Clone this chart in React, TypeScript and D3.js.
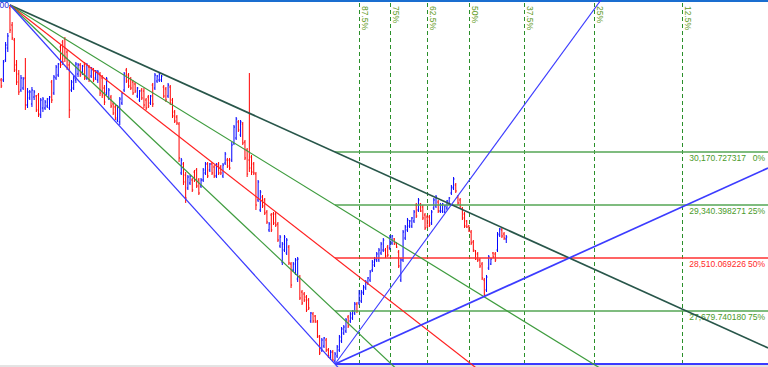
import React from "react";
import * as d3 from "d3";

const W = 768;
const H = 367;

const opens = [31299,31299,31612,31800,32427,32160,31925,31534,31393,31142,31173,31330,30907,31017,30923,31032,31048,31064,30750,30860,30860,30891,30860,31267,31095,31330,31377,31816,31894,31941,31737,31534,31142,31173,31299,31393,31534,31408,31549,31330,31502,31361,31455,31330,31299,31393,31330,31173,31095,31017,31032,30923,30876,30672,30641,30938,31142,31455,31377,31314,31267,31236,31048,30985,31142,31126,30985,31032,30938,31220,31173,31283,31299,31299,31189,31158,31048,31189,30985,30797,30719,30609,29842,29983,29810,29607,29685,29732,29857,29889,29732,29638,29732,29842,29983,29889,29983,29936,29795,29983,29936,29795,29998,30045,30045,30045,30312,30390,30641,30437,30609,30327,30202,30045,30092,29983,29826,29419,29262,29466,29419,29231,28949,29184,29199,29199,29043,28698,28447,28635,28588,28682,28416,28322,28275,28181,28212,27977,27946,27899,27852,27523,27633,27601,27507,27272,27069,27131,27225,27069,26943,27037,26896,26975,27069,27210,27335,27366,27586,27523,27570,27648,27789,27805,27836,27962,28040,28118,28165,28322,28400,28479,28479,28588,28635,28635,28682,28667,28745,28808,28745,28604,28165,28479,28823,28949,29011,29011,29090,29340,29262,29356,29309,29184,29152,29152,29058,29293,29325,29387,29246,29246,29231,29293,29356,29528,29607,29654,29466,29419,29278,29199,29090,29011,28917,28761,28620,28573,28479,28416,28165,28009,28353,28416,28588,28573,28635,28870,28949,28886,28808];
const highs = [31330,31612,31894,32035,32474,32207,31957,31612,31455,31377,31346,31643,31173,31142,31189,31142,31064,31095,31017,31032,30985,31017,31048,31299,31377,31534,31565,31847,31925,31972,31769,31612,31299,31361,31581,31565,31565,31534,31581,31565,31534,31502,31487,31455,31455,31424,31377,31220,31346,31173,31064,30954,30907,30907,31032,31111,31424,31487,31408,31346,31299,31267,31189,31142,31173,31173,31017,31064,31064,31252,31408,31377,31408,31377,31220,31189,31252,31220,31017,30829,30750,30641,30077,30014,29857,29810,29810,29763,29889,29920,29763,29763,29920,30014,30014,29998,30014,29967,29998,30014,29967,29998,30171,30077,30077,30327,30594,30719,30672,30672,30641,30359,30233,31408,30124,30014,29857,29732,29575,29497,29450,29262,29074,29215,29231,29231,29074,28870,28761,28870,28823,28714,28447,28447,28510,28526,28244,28009,27977,27930,27883,27664,27664,27617,27539,27304,27257,27272,27257,27100,27069,27069,27037,27147,27304,27429,27460,27570,27617,27664,27695,27821,27821,28009,28009,28087,28165,28212,28322,28479,28526,28604,28667,28761,28823,28667,28714,28870,28870,28823,28761,28635,28510,28949,29027,29137,29105,29152,29262,29372,29450,29372,29340,29215,29184,29184,29262,29450,29497,29419,29372,29372,29340,29419,29466,29654,29779,29685,29497,29450,29309,29231,29105,29027,28949,28792,28635,28604,28510,28447,28197,28244,28557,28510,28604,28604,28917,28980,28980,28917,28870];
const lows = [31173,31267,31581,31737,32035,31925,31424,31220,31064,31111,31142,30829,30860,30985,30876,30985,30797,30719,30703,30797,30829,30860,30829,30938,31064,31299,31346,31487,31534,31581,31455,30703,31111,31142,31252,31346,31346,31377,31299,31299,31267,31330,31267,31299,31252,31048,31017,30907,31064,30985,30860,30750,30672,30641,30594,30907,31111,31252,31173,31142,31064,31095,31017,30954,30985,30860,30829,30860,30907,30876,31142,31252,31267,31267,31017,30954,31017,30907,30703,30625,30594,30014,29810,29654,29372,29575,29654,29544,29701,29607,29497,29607,29701,29810,29763,29857,29810,29763,29763,29810,29810,29763,29967,29920,29889,30014,30280,30359,30484,30406,30280,30045,29779,29857,29810,29810,29262,29387,29231,29293,29184,29043,28917,28917,29027,28996,28761,28667,28400,28604,28557,28400,28040,28291,28244,28134,27852,27774,27821,27664,27695,27492,27492,27492,27257,26990,27037,27100,27037,26943,26912,26881,26849.41,26943,27037,27178,27304,27335,27413,27492,27539,27617,27648,27774,27805,27930,28009,28087,28134,28291,28369,28447,28447,28557,28604,28510,28526,28635,28714,28714,28667,28353,28134,28447,28792,28917,28980,28980,29058,29137,29231,29231,29105,28949,28980,28996,29027,29262,29293,29215,29215,29215,29215,29262,29340,29497,29575,29528,29340,29293,29105,28980,28980,28917,28714,28604,28479,28447,28353,28165,27899,27977,28322,28400,28510,28447,28604,28839,28823,28792,28745];
const closes = [31205,31581,31847,31988,32082,31957,31455,31267,31111,31330,31314,30907,31111,31111,31142,31111,30829,30766,30985,31001,30954,31001,31032,30985,31346,31502,31549,31534,31581,31643,31487,30829,31267,31330,31549,31534,31377,31518,31330,31534,31299,31487,31299,31440,31424,31095,31064,30954,31314,31142,30891,30782,30703,30876,31001,31095,31393,31283,31205,31173,31095,31126,31173,31126,31017,30907,30860,30891,31048,30923,31377,31361,31393,31361,31048,30985,31220,30938,30735,30656,30625,30077,30045,29701,29450,29779,29795,29575,29732,29638,29528,29732,29889,29983,29795,29983,29842,29795,29967,29842,29842,29967,30139,29951,29920,30280,30562,30688,30515,30641,30312,30077,29826,29920,29857,29842,29340,29701,29544,29325,29215,29074,29043,28949,29058,29027,28792,28839,28729,28839,28792,28432,28087,28416,28479,28494,27883,27805,27852,27695,27727,27648,27523,27523,27288,27022,27225,27257,27069,26975,27037,26912,27006,27116,27272,27398,27429,27539,27445,27633,27680,27789,27680,27946,27977,28056,28134,28197,28291,28447,28494,28573,28635,28729,28792,28541,28557,28839,28855,28729,28682,28385,28479,28917,28996,29105,29090,29137,29231,29168,29419,29246,29137,28980,29011,29027,29231,29419,29466,29246,29340,29356,29325,29403,29450,29622,29748,29560,29372,29325,29137,29011,28996,28933,28745,28635,28494,28479,28385,28197,27930,28212,28526,28494,28526,28479,28886,28964,28855,28823,28839];

// Fibonacci fan / retracement anchored between the swing high bar and the swing low bar
const pivotIndex = 4;
const lowIndex = 152;
const fibPercents = ["0%", "25%", "50%", "75%", "100%"];
const fibPrices = [30170.727317, 29340.398271, 28510.069226, 27679.74018, 26849.411134];
const fibColors = ["#28564a", "#3f9c3f", "#ff2222", "#3f9c3f", "#3a3aff"];
const fibLevelColors = ["#54a654", "#54a654", "#ff3030", "#54a654", "#3a3aff"];
const fibTextColors = ["#4a9a2a", "#4a9a2a", "#ff2a2a", "#4a9a2a", "#3a3aff"];
const labelledLevels = 4;

// Time zones (bar index) with their labels
const timeZoneIndex = [163, 177, 194, 213, 238, 270, 310];
const timeZoneLabels = ["87.5%", "75%", "62.5%", "50%", "37.5%", "25%", "12.5%"];

// Angle lines from the swing low: target (bar index, price)
const angleTargetIndex = [273.1, 349.2];
const angleTargetPrice = [32552, 29920];

// Horizontal price line near the top
const topLinePrice = 32536;

export default function App() {
  const x = d3.scaleLinear().domain([0, 230]).range([1.2, 506.28]);
  const y = d3.scaleLinear().domain([26802.4, 32552.05]).range([H, 0]);
  const font = "'Liberation Sans', Arial, sans-serif";

  const ext = (x1: number, y1: number, x2: number, y2: number, xe: number) =>
    y1 + ((y2 - y1) * (xe - x1)) / (x2 - x1);

  const px = x(pivotIndex);
  const py = y(highs[pivotIndex]);
  const qx = x(lowIndex);
  const qy = y(lows[lowIndex]);
  const fmt = d3.format(",.6f");

  return (
    <svg
      width={W}
      height={H}
      style={{ position: "absolute", left: 0, top: 0, background: "#fff", display: "block" }}
      fontFamily={font}
    >
      <defs>
        <clipPath id="clip">
          <rect x={0} y={0} width={W} height={H} />
        </clipPath>
      </defs>
      <rect x={0} y={0} width={W} height={H} fill="#fff" />
      <g clipPath="url(#clip)">
        <line x1={0} x2={W} y1={366} y2={366} stroke="#c8c8c8" strokeWidth={1} />
        {/* time zones */}
        {timeZoneIndex.map((t, k) => {
          const xx = Math.round(x(t)) + 0.5;
          return (
            <g key={"tz" + k}>
              <line x1={xx} x2={xx} y1={3} y2={H} stroke="#2a8f2a" strokeWidth={1} strokeDasharray="4,3" />
              <text
                transform={`translate(${xx + 2.5},6) rotate(90)`}
                fontSize={8.5}
                fill="#5f9a1c"
              >
                {timeZoneLabels[k]}
              </text>
            </g>
          );
        })}
        {/* bars */}
        {highs.map((h, i) => {
          const up = closes[i] >= opens[i];
          const c = up ? "#0000ff" : "#ff0000";
          const xx = x(i);
          return (
            <g key={"b" + i} stroke={c} strokeWidth={1}>
              <line x1={xx} x2={xx} y1={y(h)} y2={y(lows[i])} />
              <line x1={xx - 1} x2={xx} y1={y(opens[i])} y2={y(opens[i])} />
              <line x1={xx} x2={xx + 1} y1={y(closes[i])} y2={y(closes[i])} />
            </g>
          );
        })}
        {/* top price line */}
        <line x1={0} x2={W} y1={y(topLinePrice)} y2={y(topLinePrice)} stroke="#1a6ed0" strokeWidth={2} />
        <text x={9} y={8} textAnchor="end" fontSize={8.5} fill="#2a2ae0">
          32,536.00
        </text>
        {/* retracement levels */}
        {fibPrices.map((p, k) => {
          const yy = y(p);
          return (
            <g key={"lv" + k}>
              <line x1={qx} x2={W} y1={yy} y2={yy} stroke={fibLevelColors[k]} strokeWidth={k === 4 ? 2 : 1.6} />
              {k < labelledLevels && (
                <>
                  <text x={746} y={yy + 9} textAnchor="end" fontSize={8.5} fill={fibTextColors[k]}>
                    {fmt(p)}
                  </text>
                  <text x={765} y={yy + 9} textAnchor="end" fontSize={8.5} fill={fibTextColors[k]}>
                    {fibPercents[k]}
                  </text>
                </>
              )}
            </g>
          );
        })}
        {/* fan lines */}
        {fibPrices.map((p, k) => {
          const yq = y(p);
          return (
            <line
              key={"fan" + k}
              x1={px}
              y1={py}
              x2={W}
              y2={ext(px, py, qx, yq, W)}
              stroke={fibColors[k]}
              strokeWidth={k === 0 ? 1.7 : 1.2}
            />
          );
        })}
        {/* angle lines from swing low */}
        {angleTargetIndex.map((t, k) => {
          const tx = x(t);
          const ty = y(angleTargetPrice[k]);
          return (
            <line
              key={"ang" + k}
              x1={qx}
              y1={qy}
              x2={W}
              y2={ext(qx, qy, tx, ty, W)}
              stroke="#3c3cff"
              strokeWidth={k === 1 ? 1.7 : 1.1}
            />
          );
        })}
      </g>
    </svg>
  );
}
